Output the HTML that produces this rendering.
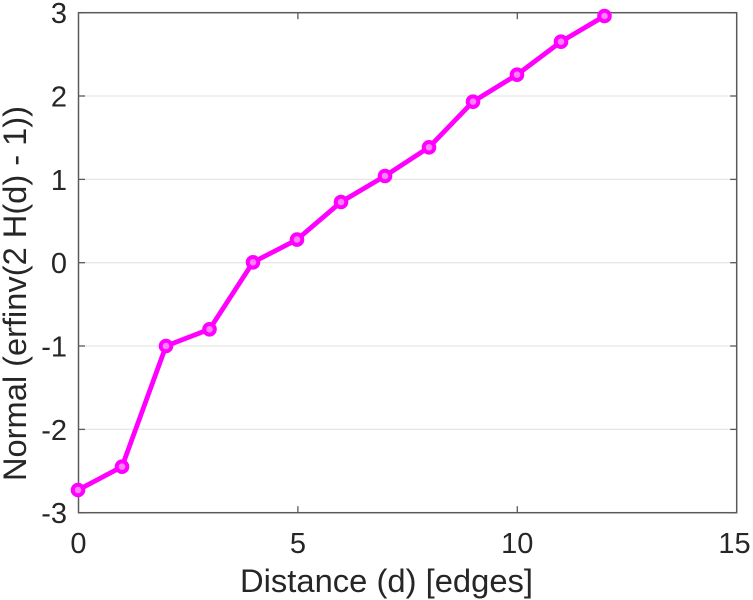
<!DOCTYPE html>
<html>
<head>
<meta charset="utf-8">
<style>
  html, body { margin: 0; padding: 0; background: #fff; }
  svg { display: block; }
  text { font-family: "Liberation Sans", Arial, sans-serif; fill: #262626; }
</style>
</head>
<body>
<svg width="753" height="600" viewBox="0 0 753 600" xmlns="http://www.w3.org/2000/svg">
  <rect x="0" y="0" width="753" height="600" fill="#fff"/>
  <!-- horizontal gridlines -->
  <g stroke="#e6e6e6" stroke-width="1.3">
    <line x1="78.5" y1="96" x2="736.7" y2="96"/>
    <line x1="78.5" y1="179.4" x2="736.7" y2="179.4"/>
    <line x1="78.5" y1="262.7" x2="736.7" y2="262.7"/>
    <line x1="78.5" y1="346" x2="736.7" y2="346"/>
    <line x1="78.5" y1="429.4" x2="736.7" y2="429.4"/>
  </g>
  <!-- axes box -->
  <rect x="78.5" y="12.7" width="658.2" height="500" fill="none" stroke="#5a5a5a" stroke-width="1.5"/>
  <!-- ticks -->
  <g stroke="#5a5a5a" stroke-width="1.3">
    <line x1="78.5" y1="12.7" x2="85" y2="12.7"/><line x1="736.7" y1="12.7" x2="730.2" y2="12.7"/>
    <line x1="78.5" y1="96" x2="85" y2="96"/><line x1="736.7" y1="96" x2="730.2" y2="96"/>
    <line x1="78.5" y1="179.4" x2="85" y2="179.4"/><line x1="736.7" y1="179.4" x2="730.2" y2="179.4"/>
    <line x1="78.5" y1="262.7" x2="85" y2="262.7"/><line x1="736.7" y1="262.7" x2="730.2" y2="262.7"/>
    <line x1="78.5" y1="346" x2="85" y2="346"/><line x1="736.7" y1="346" x2="730.2" y2="346"/>
    <line x1="78.5" y1="429.4" x2="85" y2="429.4"/><line x1="736.7" y1="429.4" x2="730.2" y2="429.4"/>
    <line x1="78.5" y1="512.7" x2="85" y2="512.7"/><line x1="736.7" y1="512.7" x2="730.2" y2="512.7"/>
    <line x1="297.9" y1="512.7" x2="297.9" y2="506.2"/><line x1="297.9" y1="12.7" x2="297.9" y2="19.2"/>
    <line x1="517.3" y1="512.7" x2="517.3" y2="506.2"/><line x1="517.3" y1="12.7" x2="517.3" y2="19.2"/>
  </g>
  <!-- y tick labels -->
  <g font-size="29" text-anchor="end">
    <text x="67" y="23">3</text>
    <text x="67" y="106.5">2</text>
    <text x="67" y="189.8">1</text>
    <text x="67" y="273.2">0</text>
    <text x="67" y="356.5">-1</text>
    <text x="67" y="439.8">-2</text>
    <text x="67" y="523.2">-3</text>
  </g>
  <!-- x tick labels -->
  <g font-size="29" text-anchor="middle">
    <text x="78.5" y="553">0</text>
    <text x="297.9" y="553">5</text>
    <text x="517.3" y="553">10</text>
    <text x="734.5" y="553">15</text>
  </g>
  <!-- axis labels -->
  <text x="240" y="592" font-size="32" textLength="293" lengthAdjust="spacingAndGlyphs">Distance (d) [edges]</text>
  <text transform="translate(26,481) rotate(-90)" font-size="32" textLength="375" lengthAdjust="spacingAndGlyphs">Normal (erfinv(2 H(d) - 1))</text>
  <!-- data series -->
  <polyline fill="none" stroke="#ff00ff" stroke-width="4.8" stroke-linejoin="round"
    points="78,490 122,466.7 166,346 209.5,329.3 253,262.3 297,239.6 341,202 385,176 429,147.3 473,101.7 517,74.7 561,41.7 604.5,16"/>
  <g fill="#ff80ff" stroke="#ff00ff" stroke-width="4">
    <circle cx="78" cy="490" r="5.3"/>
    <circle cx="122" cy="466.7" r="5.3"/>
    <circle cx="166" cy="346" r="5.3"/>
    <circle cx="209.5" cy="329.3" r="5.3"/>
    <circle cx="253" cy="262.3" r="5.3"/>
    <circle cx="297" cy="239.6" r="5.3"/>
    <circle cx="341" cy="202" r="5.3"/>
    <circle cx="385" cy="176" r="5.3"/>
    <circle cx="429" cy="147.3" r="5.3"/>
    <circle cx="473" cy="101.7" r="5.3"/>
    <circle cx="517" cy="74.7" r="5.3"/>
    <circle cx="561" cy="41.7" r="5.3"/>
    <circle cx="604.5" cy="16" r="5.3"/>
  </g>
</svg>
</body>
</html>
